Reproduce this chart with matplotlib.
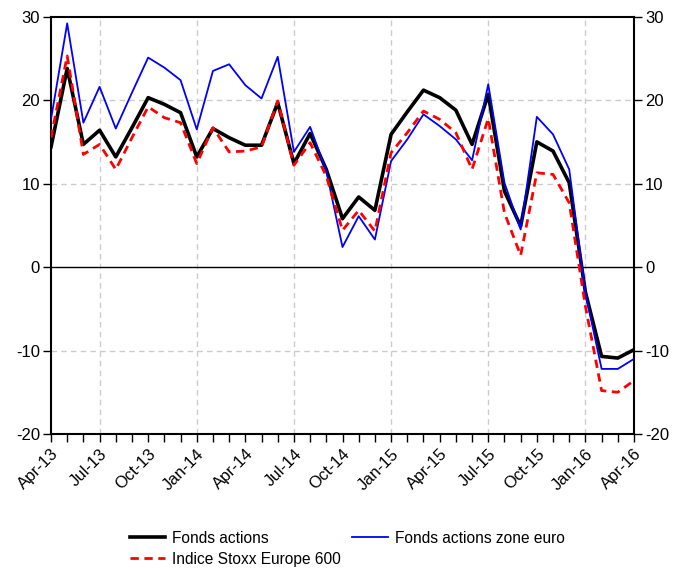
import matplotlib
matplotlib.use("Agg")
import matplotlib.pyplot as plt
from matplotlib.ticker import FixedLocator, MultipleLocator

plt.rcParams['font.family'] = ['Liberation Sans', 'DejaVu Sans']

months = ['Apr-13', 'May-13', 'Jun-13', 'Jul-13', 'Aug-13', 'Sep-13', 'Oct-13', 'Nov-13', 'Dec-13',
          'Jan-14', 'Feb-14', 'Mar-14', 'Apr-14', 'May-14', 'Jun-14', 'Jul-14', 'Aug-14', 'Sep-14',
          'Oct-14', 'Nov-14', 'Dec-14', 'Jan-15', 'Feb-15', 'Mar-15', 'Apr-15', 'May-15', 'Jun-15',
          'Jul-15', 'Aug-15', 'Sep-15', 'Oct-15', 'Nov-15', 'Dec-15', 'Jan-16', 'Feb-16', 'Mar-16',
          'Apr-16']

fonds_actions = [14.4, 23.8, 14.7, 16.4, 13.2, 16.7, 20.3, 19.5, 18.5, 13.2, 16.6, 15.5, 14.6,
                 14.6, 19.7, 12.4, 16.0, 11.7, 5.8, 8.4, 6.8, 15.9, 18.6, 21.2, 20.3, 18.8,
                 14.7, 20.7, 9.1, 4.9, 15.0, 13.9, 10.1, -3.0, -10.7, -10.9, -9.9]
fonds_zone_euro = [17.7, 29.2, 17.3, 21.6, 16.6, 20.9, 25.1, 23.9, 22.4, 16.5, 23.5, 24.3, 21.8,
                   20.2, 25.2, 13.8, 16.8, 11.5, 2.4, 6.1, 3.3, 12.7, 15.3, 18.3, 16.9, 15.3,
                   12.8, 21.9, 10.1, 4.5, 18.0, 15.9, 11.7, -3.1, -12.2, -12.2, -11.0]
stoxx600 = [15.5, 25.3, 13.5, 14.7, 11.7, 15.5, 19.2, 17.9, 17.3, 12.4, 16.7, 13.8, 13.9,
            14.4, 19.9, 12.2, 14.9, 10.9, 4.4, 6.8, 4.3, 13.7, 16.1, 18.7, 17.7, 16.1,
            11.7, 17.8, 6.5, 1.4, 11.3, 11.1, 7.7, -4.7, -14.8, -15.0, -13.6]

y_ticks = [-20, -10, 0, 10, 20, 30]

x = list(range(len(months)))

fig = plt.figure(figsize=(6.83, 5.68), dpi=100)
ax = fig.add_axes([51/683, 1-434/568, (634-51)/683, (434-16.7)/568])

# grid
for xv in range(3, len(months), 6):
    ax.axvline(xv, color='#cccccc', lw=1.0, ls=(0, (4, 3)), zorder=0)
for yv in [-10, 10, 20]:
    ax.axhline(yv, color='#cccccc', lw=1.0, ls=(0, (4, 3)), zorder=0)
ax.axhline(0, color='black', lw=1.0, zorder=1)

l1, = ax.plot(x, fonds_actions, color='black', lw=2.6, label='Fonds actions', zorder=3)
l2, = ax.plot(x, fonds_zone_euro, color='#0000ff', lw=1.3, label='Fonds actions zone euro', zorder=4)
l3, = ax.plot(x, stoxx600, color='#ff0000', lw=2.0, ls=(0, (3, 2)), label='Indice Stoxx Europe 600', zorder=5)

ax.set_xlim(0, len(months) - 1)
ax.set_ylim(-20, 30)
ax.set_yticks(y_ticks)
ax.set_yticklabels([str(v) for v in y_ticks])

ax.xaxis.set_major_locator(FixedLocator(list(range(0, len(months), 3))))
ax.set_xticklabels([months[i] for i in range(0, len(months), 3)], rotation=45,
                   ha='right', rotation_mode='anchor')
ax.xaxis.set_minor_locator(MultipleLocator(1))

ax.tick_params(axis='both', which='major', direction='out', length=6, width=1.0,
               labelsize=12, colors='black')
ax.tick_params(axis='x', which='minor', direction='out', length=6, width=1.0)
ax.tick_params(axis='y', which='both', left=True, right=True, labelleft=True, labelright=True, pad=2)
ax.tick_params(axis='x', which='major', pad=3)

for s in ax.spines.values():
    s.set_linewidth(1.5)

fig.legend([l1, l3, l2], ['Fonds actions', 'Indice Stoxx Europe 600', 'Fonds actions zone euro'],
           ncol=2, loc='upper left', bbox_to_anchor=(125/683, 1-526/568), frameon=False,
           fontsize=11.2, handlelength=2.3, handletextpad=0.45, columnspacing=0.7,
           labelspacing=0.4, borderaxespad=0, borderpad=0.3)

fig.savefig('out.png', dpi=100)
